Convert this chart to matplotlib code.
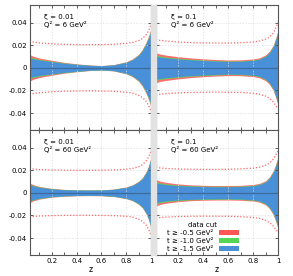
import matplotlib
matplotlib.use("Agg")
import matplotlib.pyplot as plt
from matplotlib.patches import Patch, Rectangle

plt.rcParams["axes.unicode_minus"] = False
plt.rcParams["font.family"] = ["DejaVu Sans"]

z = [0.02, 0.05, 0.1, 0.2, 0.3, 0.4, 0.5, 0.6, 0.7, 0.8, 0.85, 0.9, 0.93, 0.96, 0.98, 1.0]

# panel labels
xi_labels = ["0.01", "0.1", "0.01", "0.1"]
q2_labels = ["6", "6", "60", "60"]

# half widths of bands (t >= -1.5 blue, -1.0 green, -0.5 red)
blue_a = [0.0088, 0.0078, 0.0068, 0.0054, 0.0040, 0.0030, 0.0022, 0.0018, 0.0025, 0.0048, 0.0070, 0.0110, 0.0150, 0.0210, 0.0260, 0.0320]
green_a = [0.0098, 0.0086, 0.0074, 0.0058, 0.0043, 0.0032, 0.0023, 0.0019, 0.0026, 0.0050, 0.0073, 0.0114, 0.0155, 0.0216, 0.0268, 0.0330]
red_a = [0.0118, 0.0102, 0.0086, 0.0066, 0.0048, 0.0035, 0.0025, 0.0020, 0.0028, 0.0054, 0.0078, 0.0120, 0.0163, 0.0226, 0.0280, 0.0345]
dup_a = [0.0235, 0.0228, 0.0220, 0.0212, 0.0207, 0.0205, 0.0204, 0.0205, 0.0208, 0.0216, 0.0224, 0.0240, 0.0258, 0.0290, 0.0325, 0.0380]
dlo_a = [-0.0235, -0.0228, -0.0220, -0.0212, -0.0207, -0.0205, -0.0204, -0.0205, -0.0208, -0.0216, -0.0224, -0.0242, -0.0262, -0.0295, -0.0330, -0.0385]

blue_b = [0.0103, 0.0095, 0.0088, 0.0078, 0.0070, 0.0064, 0.0059, 0.0056, 0.0057, 0.0065, 0.0075, 0.0100, 0.0130, 0.0180, 0.0240, 0.0310]
green_b = [0.0112, 0.0103, 0.0095, 0.0084, 0.0075, 0.0069, 0.0063, 0.0060, 0.0061, 0.0069, 0.0079, 0.0104, 0.0135, 0.0186, 0.0247, 0.0318]
red_b = [0.0132, 0.0122, 0.0112, 0.0098, 0.0087, 0.0079, 0.0073, 0.0069, 0.0070, 0.0078, 0.0088, 0.0114, 0.0145, 0.0196, 0.0258, 0.0330]
dup_b = [0.0250, 0.0243, 0.0236, 0.0228, 0.0223, 0.0220, 0.0219, 0.0219, 0.0221, 0.0228, 0.0236, 0.0252, 0.0270, 0.0305, 0.0345, 0.0400]
dlo_b = [-0.0240, -0.0234, -0.0228, -0.0222, -0.0218, -0.0216, -0.0215, -0.0216, -0.0218, -0.0225, -0.0233, -0.0250, -0.0268, -0.0300, -0.0330, -0.0360]

blue_c = [0.0072, 0.0060, 0.0048, 0.0034, 0.0027, 0.0024, 0.0023, 0.0024, 0.0030, 0.0048, 0.0065, 0.0095, 0.0125, 0.0175, 0.0225, 0.0300]
green_c = [0.0078, 0.0064, 0.0051, 0.0036, 0.0028, 0.0025, 0.0024, 0.0025, 0.0031, 0.0049, 0.0067, 0.0098, 0.0128, 0.0179, 0.0230, 0.0306]
red_c = [0.0088, 0.0072, 0.0056, 0.0039, 0.0030, 0.0026, 0.0025, 0.0026, 0.0033, 0.0052, 0.0070, 0.0102, 0.0133, 0.0185, 0.0238, 0.0315]
dup_c = [0.0215, 0.0210, 0.0205, 0.0202, 0.0200, 0.0199, 0.0199, 0.0200, 0.0202, 0.0208, 0.0215, 0.0230, 0.0248, 0.0280, 0.0315, 0.0370]
dlo_c = [-0.0215, -0.0210, -0.0205, -0.0202, -0.0200, -0.0199, -0.0199, -0.0200, -0.0202, -0.0208, -0.0215, -0.0232, -0.0252, -0.0285, -0.0320, -0.0375]

blue_d = [0.0088, 0.0080, 0.0072, 0.0063, 0.0058, 0.0055, 0.0053, 0.0053, 0.0055, 0.0062, 0.0072, 0.0095, 0.0125, 0.0175, 0.0230, 0.0300]
green_d = [0.0098, 0.0088, 0.0079, 0.0068, 0.0062, 0.0059, 0.0057, 0.0057, 0.0059, 0.0066, 0.0076, 0.0099, 0.0130, 0.0180, 0.0236, 0.0307]
red_d = [0.0117, 0.0104, 0.0092, 0.0078, 0.0070, 0.0066, 0.0064, 0.0064, 0.0066, 0.0073, 0.0083, 0.0106, 0.0138, 0.0190, 0.0246, 0.0318]
dup_d = [0.0225, 0.0220, 0.0215, 0.0210, 0.0208, 0.0207, 0.0207, 0.0208, 0.0211, 0.0218, 0.0226, 0.0243, 0.0262, 0.0295, 0.0330, 0.0370]
dlo_d = [-0.0225, -0.0220, -0.0215, -0.0210, -0.0208, -0.0207, -0.0207, -0.0208, -0.0211, -0.0218, -0.0226, -0.0243, -0.0262, -0.0292, -0.0320, -0.0350]

panels = [
    (blue_a, green_a, red_a, dup_a, dlo_a),
    (blue_b, green_b, red_b, dup_b, dlo_b),
    (blue_c, green_c, red_c, dup_c, dlo_c),
    (blue_d, green_d, red_d, dup_d, dlo_d),
]

legend_labels = ["t ≥ -0.5 GeV²", "t ≥ -1.0 GeV²", "t ≥ -1.5 GeV²"]
RED, GREEN, BLUE = "#ff5555", "#55d555", "#4a90d9"

W, H = 293, 276
fig = plt.figure(figsize=(W / 100, H / 100), dpi=100)

# axes boxes in pixels: (left, right), (top, bottom)
cols = [(29.5, 151), (156, 278)]
rows = [(5, 130), (130, 255)]

# light gray strip between the columns
fig.patches.append(Rectangle((151 / W, 1 - 255 / H), 5 / W, 250 / H,
                             transform=fig.transFigure, color="#e2e2e2", zorder=0))

axes = []
for i in range(4):
    r, c = divmod(i, 2)
    x0, x1 = cols[c]
    y0, y1 = rows[r]
    ax = fig.add_axes([x0 / W, 1 - y1 / H, (x1 - x0) / W, (y1 - y0) / H])
    axes.append(ax)
    blue, green, red, dup, dlo = panels[i]

    ax.fill_between(z, [-v for v in red], red, color=RED, alpha=0.85, lw=0)
    ax.fill_between(z, [-v for v in green], green, color=GREEN, lw=0)
    ax.fill_between(z, [-v for v in blue], blue, color=BLUE, lw=0)
    ax.axhline(0, color="#3d6a98", lw=0.9)
    ax.plot(z, dup, color="#ff6666", ls=(0, (1, 1.5)), lw=0.9)
    ax.plot(z, dlo, color="#ff6666", ls=(0, (1, 1.5)), lw=0.9)

    ax.set_xlim(0.02, 1.0)
    ax.set_ylim(-0.055, 0.0555)
    ax.set_xticks([0.2, 0.4, 0.6, 0.8, 1.0])
    ax.set_xticks([0.1, 0.3, 0.5, 0.7, 0.9], minor=True)
    ax.set_yticks([-0.04, -0.02, 0, 0.02, 0.04])
    ax.grid(True, color="#dddddd", ls=(0, (2, 2)), lw=0.5)
    ax.tick_params(which="both", direction="in", top=True, right=True,
                   length=2.5, width=0.6, color="#444444", labelsize=5, pad=2)
    for s in ax.spines.values():
        s.set_color("#555555")
        s.set_linewidth(0.8)

    if r == 1:
        ax.set_xticklabels(["0.2", "0.4", "0.6", "0.8", "1"])
        ax.set_xlabel("z", fontsize=5.5, labelpad=1)
    else:
        ax.set_xticklabels([])
    if c == 0:
        ax.set_yticklabels(["-0.04", "-0.02", "0", "0.02", "0.04"])
    else:
        ax.set_yticklabels([])

    ax.text(0.12, 0.93, "ξ = " + xi_labels[i] + "\nQ² = " + q2_labels[i] + " GeV²",
            transform=ax.transAxes, fontsize=5, va="top", ha="left", linespacing=1.2)

handles = [Patch(facecolor=RED, edgecolor="none"),
           Patch(facecolor=GREEN, edgecolor="none"),
           Patch(facecolor=BLUE, edgecolor="none")]
leg = axes[3].legend(handles, legend_labels, title="data cut", loc="lower right",
                     bbox_to_anchor=(0.68, 0.025), frameon=False, markerfirst=False,
                     fontsize=5, title_fontsize=5, handlelength=2.9, handleheight=0.7,
                     labelspacing=0.3, handletextpad=0.8, borderpad=0, borderaxespad=0)

fig.savefig("out.png", dpi=100)
